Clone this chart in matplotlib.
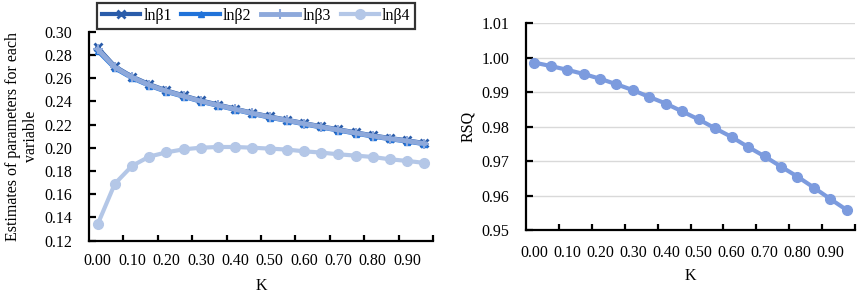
import numpy as np
import matplotlib
matplotlib.use('Agg')
import matplotlib.pyplot as plt

plt.rcParams['font.family'] = ['Liberation Serif', 'DejaVu Serif']
plt.rcParams['font.size'] = 11.5

# data
k = [0.00, 0.05, 0.10, 0.15, 0.20, 0.25, 0.30, 0.35, 0.40, 0.45,
     0.50, 0.55, 0.60, 0.65, 0.70, 0.75, 0.80, 0.85, 0.90, 0.95]
ln_b1 = [0.2865, 0.2702, 0.2614, 0.2548, 0.2494, 0.2451, 0.2408, 0.2373, 0.2337, 0.2302,
         0.2270, 0.2242, 0.2213, 0.2185, 0.2159, 0.2133, 0.2107, 0.2084, 0.2064, 0.2041]
ln_b2 = [0.2835, 0.2685, 0.2600, 0.2535, 0.2482, 0.2440, 0.2397, 0.2362, 0.2327, 0.2292,
         0.2260, 0.2232, 0.2203, 0.2175, 0.2149, 0.2123, 0.2097, 0.2074, 0.2054, 0.2031]
ln_b3 = [0.2850, 0.2694, 0.2607, 0.2541, 0.2488, 0.2445, 0.2402, 0.2367, 0.2332, 0.2297,
         0.2265, 0.2237, 0.2208, 0.2180, 0.2154, 0.2128, 0.2102, 0.2079, 0.2059, 0.2036]
ln_b4 = [0.1340, 0.1690, 0.1844, 0.1924, 0.1961, 0.1987, 0.2001, 0.2007, 0.2007, 0.2001,
         0.1993, 0.1985, 0.1970, 0.1959, 0.1944, 0.1933, 0.1921, 0.1901, 0.1887, 0.1870]
rsq = [0.9986, 0.9976, 0.9965, 0.9953, 0.9939, 0.9923, 0.9906, 0.9886, 0.9867, 0.9844,
       0.9821, 0.9795, 0.9770, 0.9741, 0.9714, 0.9684, 0.9655, 0.9623, 0.9590, 0.9558]

label_k = [0.00, 0.10, 0.20, 0.30, 0.40, 0.50, 0.60, 0.70, 0.80, 0.90]
tick_lbls = ['0.00', '0.10', '0.20', '0.30', '0.40', '0.50', '0.60', '0.70', '0.80', '0.90']

fig = plt.figure(figsize=(8.58, 2.94), dpi=100)
W, H = 858, 294


def px_axes(x0, x1, ytop, ybot):
    return fig.add_axes([x0 / W, 1 - ybot / H, (x1 - x0) / W, (ybot - ytop) / H])


def style_axis(ax, xpad):
    for s in ['top', 'right']:
        ax.spines[s].set_visible(False)
    for s in ['left', 'bottom']:
        ax.spines[s].set_linewidth(1.6)
        ax.spines[s].set_color('black')
    ax.set_xlim(-0.025, 0.975)
    ax.set_xticks(label_k)
    ax.set_xticklabels(tick_lbls)
    ax.set_xticks(np.arange(0.075, 0.98, 0.1), minor=True)
    ax.tick_params(axis='x', which='major', length=0, pad=xpad, labelsize=11.5)
    ax.tick_params(axis='x', which='minor', direction='in', length=4, width=1.6)
    ax.tick_params(axis='y', direction='in', length=5, width=1.6, pad=12, labelsize=11.5)


# left chart
ax1 = px_axes(89, 433, 31.7, 240.7)
ax1.plot(k, ln_b1, color='#2A5CAA', lw=3, marker='x', ms=6, mew=2, label='lnβ1', zorder=3)
ax1.plot(k, ln_b2, color='#2173D9', lw=3, marker='^', ms=5, label='lnβ2', zorder=4)
ax1.plot(k, ln_b3, color='#8EA9DB', lw=3.5, marker='+', ms=7, mew=1.5, label='lnβ3', zorder=5)
ax1.plot(k, ln_b4, color='#B4C7E7', lw=3, marker='o', ms=7, label='lnβ4', zorder=3)
ax1.set_ylim(0.12, 0.30)
ax1.set_yticks(np.arange(0.12, 0.301, 0.02))
ax1.set_yticklabels(['%.2f' % v for v in np.arange(0.12, 0.301, 0.02)])
style_axis(ax1, 9)
ax1.set_xlabel('K', labelpad=6)
ax1.set_ylabel('Estimates of parameters for each\nvariable', labelpad=4)

leg = fig.legend(loc='upper left', bbox_to_anchor=(97 / W, 1 - 3 / H), ncol=4,
                 frameon=True, fancybox=False, edgecolor='black', fontsize=11.5,
                 handlelength=2.4, handletextpad=0.2, columnspacing=0.6,
                 borderpad=0.3, borderaxespad=0)
leg.get_frame().set_linewidth(1.6)

# right chart
ax2 = px_axes(526, 855, 23.3, 230)
ax2.grid(axis='y', color='#D9D9D9', lw=1)
ax2.set_axisbelow(True)
ax2.plot(k, rsq, color='#7C9BDE', lw=3, marker='o', ms=7, zorder=3)
ax2.set_ylim(0.95, 1.01)
ax2.set_yticks(np.arange(0.95, 1.0101, 0.01))
ax2.set_yticklabels(['%.2f' % v for v in np.arange(0.95, 1.0101, 0.01)])
style_axis(ax2, 11)
ax2.set_xlabel('K', labelpad=5)
ax2.set_ylabel('RSQ', labelpad=4)

fig.savefig('out.png', dpi=100)
